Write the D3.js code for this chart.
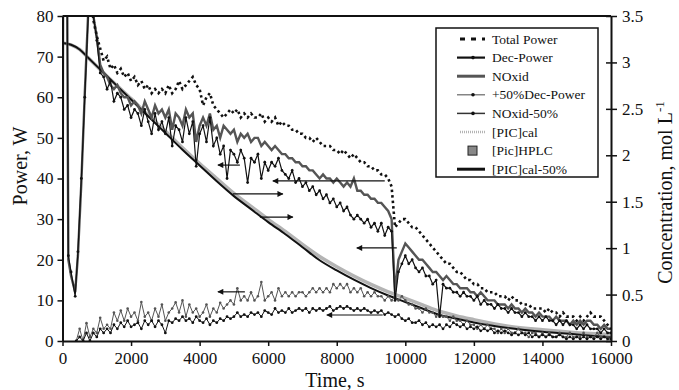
<!DOCTYPE html>
<html>
<head>
<meta charset="utf-8">
<script src="https://cdn.jsdelivr.net/npm/d3@7"></script>
<style>
  body { margin: 0; background: #fff; }
  svg text { font-family: "Liberation Serif", "Times New Roman", serif; fill: #111; }
</style>
</head>
<body>
<div class="chart"></div>
<script>
// time grids (s)
const headTime = [0, 20, 130, 170, 250, 370, 450, 550, 650, 750, 850];
const stepTime = d3.range(900, 16001, 100);
const bottomTime = d3.range(400, 16001, 100);
const totalHeadTime = [750, 850];

// power series (W)
const totalHead = [95, 84];
const totalPower = [
  79, 75, 72, 69, 70, 67, 68, 66, 67, 65,
  66, 64, 65, 63, 64, 62, 63, 61, 62, 61,
  62, 61, 63, 61, 62, 64, 62, 63, 64, 65,
  63, 62, 58, 60, 61, 58, 57, 56, 55, 56,
  57, 56, 57, 55, 56, 55, 56, 55, 55, 56,
  54, 55, 54, 55, 53, 54, 53, 53, 52, 52,
  51, 51, 50, 50, 49, 50, 49, 48, 48, 48,
  47, 47, 46, 47, 46, 45, 46, 45, 44, 44,
  43, 43, 42, 42, 41, 41, 40, 38, 28, 29,
  30, 30, 29, 28, 28, 27, 26, 25, 24, 23,
  22, 21, 20, 19, 19, 18, 17, 17, 16, 15,
  15, 14, 14, 13, 13, 12, 12, 12, 11, 11,
  11, 10, 11, 10, 10, 9, 9, 9, 8, 8,
  8, 8, 7, 8, 7, 7, 6, 7, 6, 6,
  6, 5, 6, 5, 6, 7, 6, 6, 6, 5,
  4, 3];

const decHead = [0, 100, 100, 21, 17, 11, 22, 40, 60, 80, 86];
const decPower = [
  80, 74, 66, 65, 62, 64, 59, 61, 60, 57,
  58, 55, 57, 56, 53, 57, 54, 51, 56, 52,
  54, 51, 55, 48, 53, 52, 49, 55, 51, 54,
  43, 51, 53, 49, 55, 48, 50, 46, 48, 40,
  47, 46, 44, 47, 45, 39, 45, 44, 46, 40,
  44, 42, 44, 43, 45, 42, 41, 40, 42, 39,
  40, 38, 39, 37, 38, 36, 37, 35, 36, 34,
  35, 33, 34, 32, 33, 31, 30, 31, 30, 29,
  30, 28, 29, 27, 29, 26, 28, 27, 10, 17,
  19, 21, 19, 20, 18, 17, 18, 16, 16, 14,
  15, 6, 14, 13, 13, 12, 12, 11, 12, 11,
  11, 10, 11, 9, 10, 9, 9, 8, 9, 8,
  8, 7, 8, 7, 7, 6, 7, 6, 6, 5,
  6, 5, 6, 5, 5, 4, 5, 4, 5, 4,
  4, 3, 4, 3, 4, 3, 3, 3, 2, 3,
  2, 2];

const noxHead = [0, 100, 100, 20, 16, 12, 21, 39, 61, 81, 85];
const noxid = [
  80, 75, 68, 66, 65, 63, 62, 63, 61, 60,
  60, 58, 59, 58, 56, 59, 57, 55, 58, 56,
  57, 55, 57, 52, 56, 55, 53, 57, 55, 56,
  49, 53, 55, 53, 56, 52, 53, 50, 53, 52,
  51, 52, 49, 51, 50, 51, 49, 50, 50, 48,
  49, 48, 47, 48, 47, 46, 46, 45, 45, 44,
  44, 43, 43, 42, 42, 41, 40, 41, 40, 40,
  39, 40, 39, 38, 39, 38, 40, 37, 37, 36,
  36, 35, 35, 34, 34, 33, 32, 30, 12, 20,
  22, 24, 23, 22, 21, 20, 20, 19, 18, 17,
  17, 16, 15, 16, 15, 14, 14, 13, 13, 13,
  12, 12, 11, 12, 11, 10, 10, 10, 9, 9,
  9, 8, 9, 8, 8, 7, 8, 7, 7, 6,
  7, 6, 6, 6, 5, 6, 5, 5, 5, 4,
  5, 4, 5, 4, 5, 5, 4, 4, 3, 4,
  3, 3];

const decPlus50 = [
  0, 3, 0, 4.4, 1, 3, 2, 5.7, 3, 4,
  3, 7, 5, 7.5, 5, 8, 6, 7, 5, 9.6,
  6, 7, 5, 8, 6, 9, 5, 7, 8, 9.5,
  7, 10, 6, 9, 7, 8, 6, 7, 9, 6,
  8, 7, 9.4, 8, 9, 10, 9, 13, 10, 11,
  10, 12, 10, 11, 14.5, 10, 11, 12, 10, 13,
  11, 12, 11, 12, 11, 12, 12, 11, 12, 13,
  12, 13, 12, 13, 12, 14, 13, 14, 13, 14,
  12, 13, 12, 13, 11, 12, 11, 12, 11, 11,
  10, 11, 10, 11, 10, 11, 10, 9, 9, 8,
  8, 7, 8, 7, 7, 6, 7, 6, 6, 5,
  6, 5, 5, 4, 5, 4, 4, 3, 4, 3,
  4, 3, 3, 2, 3, 2, 3, 2, 2, 3,
  2, 2, 1, 2, 2, 1, 2, 1, 2, 1,
  1, 2, 1, 1, 2, 1, 1, 1, 2, 1,
  1, 1, 2, 1, 1, 1, 1];

const noxMinus50 = [
  0, 1, 0, 2, 0, 2, 1, 3, 2, 3,
  2, 4, 3, 4.5, 3.5, 5, 3.5, 4, 4.5, 3,
  5, 4, 5, 3.5, 5, 4, 2, 5, 4.5, 5.5,
  5, 6, 5, 5.5, 4.5, 6, 5, 4.5, 5.5, 4,
  5, 4.5, 5.5, 5, 6, 5.5, 6, 7, 6, 6.5,
  6, 7, 6.5, 7, 6, 7.5, 7, 6.5, 8, 7,
  7.5, 7, 8, 7, 7.5, 8, 7.5, 8, 7, 8,
  7.5, 8, 7.5, 8, 8.5, 7.5, 8, 8.5, 8, 8.5,
  8, 7.5, 8, 7.5, 8, 7.5, 7, 7.5, 7, 7.5,
  6.5, 7, 6.5, 6, 6.5, 5.5, 5, 5.5, 4.5, 4.5,
  5, 4, 4.5, 3.5, 4, 3.5, 4, 3, 4, 3.5,
  4.5, 4, 3.5, 4, 3, 3.5, 3, 3.5, 2.5, 3,
  2.5, 3, 2, 2.5, 2, 2.5, 2, 1.5, 2, 1.5,
  2, 1.5, 2, 1, 1.5, 1, 1.5, 1, 1.5, 1,
  1, 1.5, 1, 0.5, 1, 0.5, 1, 0.5, 1, 0.5,
  1, 0.5, 1, 0.5, 1, 0.5, 0.5];

// concentration (mol/L)
const concTime = [0, 250, 500, 750, 1000, 1500, 2000, 2500, 3000, 3500, 4000, 4500, 5000, 5500, 6000,
  6500, 7000, 7500, 8000, 8500, 9000, 9500, 10000, 10500, 11000, 11500, 12000, 13000, 14000, 15000, 16000];
const picCal = [3.21, 3.19, 3.14, 3.05, 2.96, 2.78, 2.61, 2.43, 2.26, 2.08, 1.91, 1.75, 1.59, 1.45, 1.31,
  1.18, 1.04, 0.91, 0.80, 0.70, 0.61, 0.53, 0.46, 0.39, 0.32, 0.27, 0.23, 0.16, 0.12, 0.09, 0.07];
const picCal50 = [3.21, 3.19, 3.14, 3.05, 2.96, 2.78, 2.60, 2.42, 2.24, 2.06, 1.89, 1.72, 1.56, 1.42, 1.28,
  1.15, 1.01, 0.87, 0.76, 0.66, 0.57, 0.49, 0.42, 0.35, 0.28, 0.24, 0.20, 0.14, 0.10, 0.07, 0.04];

// arrows: tail time, head time, power level
const arrowTail = [5174, 4970, 5757, 9400, 9751, 5320, 9340];
const arrowHead = [4533, 6428, 6720, 6136, 8585, 4533, 7710];
const arrowLevel = [43.3, 36.2, 30.5, 39.4, 22.9, 12.1, 6.4];

const powerTicks = [0, 10, 20, 30, 40, 50, 60, 70, 80];
const concTicks = [0, 0.5, 1, 1.5, 2, 2.5, 3, 3.5];
const timeTicks = [0, 2000, 4000, 6000, 8000, 10000, 12000, 14000, 16000];
const legendLabels = ['Total Power', 'Dec-Power', 'NOxid', '+50%Dec-Power', 'NOxid-50%',
  '[PIC]cal', '[Pic]HPLC', '[PIC]cal-50%'];

const width = 679, height = 390;
const plotLeft = 62.5, plotRight = 611, plotTop = 16, plotBottom = 341;
const serif = '"Liberation Serif", "Times New Roman", serif';

const svg = d3.select('.chart').append('svg')
  .attr('width', width).attr('height', height)
  .attr('font-family', serif);

const x = d3.scaleLinear().domain([0, 16000]).range([plotLeft, plotRight]);
const yP = d3.scaleLinear().domain([0, 80]).range([plotBottom, plotTop]);
const yC = d3.scaleLinear().domain([0, 3.5]).range([plotBottom, plotTop]);

const defs = svg.append('defs');
defs.append('clipPath').attr('id', 'plotClip')
  .append('rect')
  .attr('x', plotLeft).attr('y', plotTop)
  .attr('width', plotRight - plotLeft).attr('height', plotBottom - plotTop);
defs.append('marker')
  .attr('id', 'arrowHead')
  .attr('viewBox', '0 0 10 10')
  .attr('refX', 9).attr('refY', 5)
  .attr('markerWidth', 8).attr('markerHeight', 6)
  .attr('markerUnits', 'userSpaceOnUse')
  .attr('orient', 'auto')
  .append('path')
  .attr('d', 'M0,0 L10,5 L0,10 Z')
  .attr('fill', '#111');

const plot = svg.append('g').attr('clip-path', 'url(#plotClip)');

function zipSeries(times, values) {
  return times.map((t, i) => ({ t: t, v: values[i] }));
}

const powerLine = d3.line().x(d => x(d.t)).y(d => yP(d.v));
const concLine = d3.line().curve(d3.curveMonotoneX).x(d => x(d.t)).y(d => yC(d.v));

// concentration curves
plot.append('path')
  .datum(zipSeries(concTime, picCal))
  .attr('d', concLine)
  .attr('fill', 'none')
  .attr('stroke', '#b4b4b4')
  .attr('stroke-width', 3.5);

plot.append('path')
  .datum(zipSeries(concTime, picCal50))
  .attr('d', concLine)
  .attr('fill', 'none')
  .attr('stroke', '#111')
  .attr('stroke-width', 2);

// bottom power series
const lowerSeries = [
  { data: zipSeries(bottomTime, decPlus50), color: '#555', w: 1, r: 1.3 },
  { data: zipSeries(bottomTime, noxMinus50), color: '#111', w: 1, r: 1.4 }
];
lowerSeries.forEach(s => {
  plot.append('path')
    .datum(s.data)
    .attr('d', powerLine)
    .attr('fill', 'none')
    .attr('stroke', s.color)
    .attr('stroke-width', s.w);
  plot.append('g').selectAll('circle')
    .data(s.data)
    .enter().append('circle')
    .attr('cx', d => x(d.t))
    .attr('cy', d => yP(d.v))
    .attr('r', s.r)
    .attr('fill', s.color);
});

// upper power series
const decData = zipSeries(headTime.concat(stepTime), decHead.concat(decPower));
const noxData = zipSeries(headTime.concat(stepTime), noxHead.concat(noxid));
const totalData = zipSeries(totalHeadTime.concat(stepTime), totalHead.concat(totalPower));

plot.append('path')
  .datum(noxData)
  .attr('d', powerLine)
  .attr('fill', 'none')
  .attr('stroke', '#555')
  .attr('stroke-width', 2.4);

plot.append('path')
  .datum(decData)
  .attr('d', powerLine)
  .attr('fill', 'none')
  .attr('stroke', '#111')
  .attr('stroke-width', 1.2);
plot.append('g').selectAll('circle')
  .data(decData)
  .enter().append('circle')
  .attr('cx', d => x(d.t))
  .attr('cy', d => yP(d.v))
  .attr('r', 1.4)
  .attr('fill', '#111');

plot.append('path')
  .datum(totalData)
  .attr('d', powerLine)
  .attr('fill', 'none')
  .attr('stroke', '#111')
  .attr('stroke-width', 2.6)
  .attr('stroke-dasharray', '2.5,3');

// arrows
svg.append('g').selectAll('line')
  .data(arrowTail)
  .enter().append('line')
  .attr('x1', d => x(d))
  .attr('x2', (d, i) => x(arrowHead[i]))
  .attr('y1', (d, i) => yP(arrowLevel[i]))
  .attr('y2', (d, i) => yP(arrowLevel[i]))
  .attr('stroke', '#111')
  .attr('stroke-width', 1.2)
  .attr('marker-end', 'url(#arrowHead)');

// axes
const axisLeft = svg.append('g')
  .attr('transform', `translate(${plotLeft},0)`)
  .call(d3.axisLeft(yP).tickValues(powerTicks).tickSize(5).tickSizeOuter(0).tickPadding(4));
const axisRight = svg.append('g')
  .attr('transform', `translate(${plotRight},0)`)
  .call(d3.axisRight(yC).tickValues(concTicks).tickFormat(d3.format('')).tickSize(6).tickSizeOuter(0).tickPadding(5));
axisRight.selectAll('.tick line').attr('x1', -5);
const axisBottom = svg.append('g')
  .attr('transform', `translate(0,${plotBottom})`)
  .call(d3.axisBottom(x).tickValues(timeTicks).tickFormat(d3.format('d')).tickSize(5).tickSizeOuter(0).tickPadding(6));

[axisLeft, axisRight, axisBottom].forEach(a => {
  a.attr('font-family', serif).attr('font-size', 17);
  a.select('.domain').attr('stroke', '#111').attr('stroke-width', 2);
  a.selectAll('.tick line').attr('stroke', '#111').attr('stroke-width', 1.5);
  a.selectAll('.tick text').attr('fill', '#111');
});

// top frame line
svg.append('line')
  .attr('x1', plotLeft).attr('x2', plotRight)
  .attr('y1', plotTop).attr('y2', plotTop)
  .attr('stroke', '#111').attr('stroke-width', 2);

// titles
svg.append('text')
  .attr('transform', 'translate(27,166) rotate(-90)')
  .attr('text-anchor', 'middle')
  .style('font-size', '20px')
  .text('Power, W');

const concTitle = svg.append('text')
  .attr('transform', `translate(672,${(plotTop + plotBottom) / 2 + 14}) rotate(-90)`)
  .attr('text-anchor', 'middle')
  .style('font-size', '20px');
concTitle.append('tspan').text('Concentration, mol L');
concTitle.append('tspan').attr('dy', -8).style('font-size', '13px').text('-1');

svg.append('text')
  .attr('x', 335)
  .attr('y', 387)
  .attr('text-anchor', 'middle')
  .style('font-size', '20px')
  .text('Time, s');

// legend
const legend = svg.append('g').attr('transform', 'translate(436,28)');
legend.append('rect')
  .attr('width', 162).attr('height', 149)
  .attr('fill', '#fff')
  .attr('stroke', '#111').attr('stroke-width', 1.5);

const rowY = i => 11 + i * 18.6;
const items = legend.selectAll('.item')
  .data(legendLabels)
  .enter().append('g')
  .attr('class', 'item')
  .attr('transform', (d, i) => `translate(0,${rowY(i)})`);

items.append('text')
  .attr('x', 56)
  .attr('y', 4.5)
  .style('font-size', '13.5px')
  .text(d => d);

const sampleStyle = [
  { stroke: '#111', w: 3, dash: '5,6', marker: false },
  { stroke: '#111', w: 2.2, dash: null, marker: true },
  { stroke: '#555', w: 3, dash: null, marker: false },
  { stroke: '#666', w: 1.2, dash: null, marker: true },
  { stroke: '#333', w: 1.5, dash: null, marker: true },
  { stroke: '#b4b4b4', w: 2.5, dash: '1,1', marker: false },
  null,
  { stroke: '#111', w: 3, dash: null, marker: false }
];
items.each(function (d, i) {
  const g = d3.select(this);
  const s = sampleStyle[i];
  if (!s) {
    g.append('rect')
      .attr('x', 32).attr('y', -4.5)
      .attr('width', 9).attr('height', 9)
      .attr('fill', '#888').attr('stroke', '#222').attr('stroke-width', 1);
    return;
  }
  g.append('line')
    .attr('x1', s.dash ? 24 : 21).attr('x2', 49)
    .attr('y1', 0).attr('y2', 0)
    .attr('stroke', s.stroke)
    .attr('stroke-width', s.w)
    .attr('stroke-dasharray', s.dash);
  if (s.marker) {
    g.append('circle').attr('cx', 37).attr('cy', 0).attr('r', 1.8).attr('fill', '#111');
  }
});
</script>
</body>
</html>
